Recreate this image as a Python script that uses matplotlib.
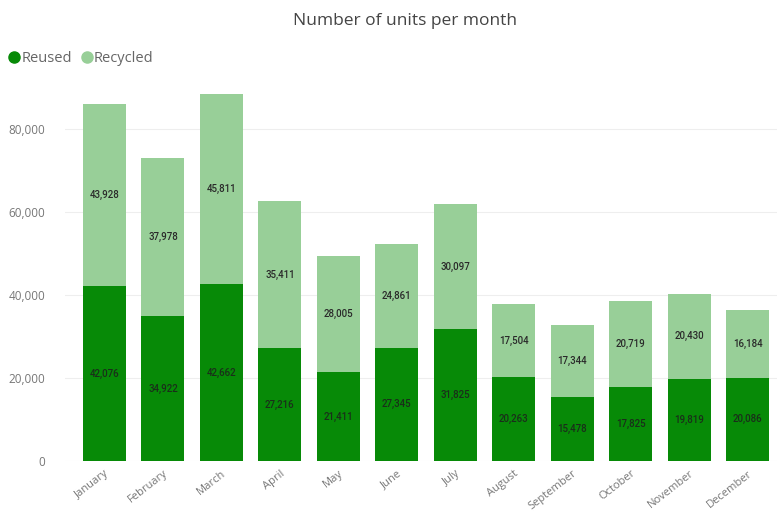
import matplotlib
matplotlib.use("Agg")
import matplotlib.pyplot as plt
from matplotlib.lines import Line2D

months = ["January", "February", "March", "April", "May", "June", "July",
          "August", "September", "October", "November", "December"]
reused = [42076, 34922, 42662, 27216, 21411, 27345, 31825, 20263, 15478, 17825, 19819, 20086]
recycled = [43928, 37978, 45811, 35411, 28005, 24861, 30097, 17504, 17344, 20719, 20430, 16184]
yticks = [0, 20000, 40000, 60000, 80000]

dark = "#078a07"
light = "#98cf98"

plt.rcParams['font.family'] = ['Open Sans', 'DejaVu Sans']
fig = plt.figure(figsize=(7.81, 5.19), dpi=100)
ax = fig.add_axes([65/781, 58/519, 712/781, 373.5/519])

x = list(range(len(months)))
w = 0.735
ax.bar(x, reused, width=w, color=dark, zorder=2)
ax.bar(x, recycled, width=w, bottom=reused, color=light, zorder=2)

for i in x:
    ax.text(i, reused[i] / 2, f"{reused[i]:,}", ha='center', va='center',
            fontsize=7, color='#1a2e1a', family=['Roboto', 'DejaVu Sans'],
            fontweight='medium', zorder=3)
    ax.text(i, reused[i] + recycled[i] / 2, f"{recycled[i]:,}", ha='center', va='center',
            fontsize=7, color='#2a2a2a', family=['Roboto', 'DejaVu Sans'],
            fontweight='medium', zorder=3)

ax.set_xlim(-0.675, 11.5)
ax.set_ylim(0, 90000)
ax.set_yticks(yticks)
ax.set_yticklabels([f"{v:,}" for v in yticks])
ax.set_xticks(x)
ax.set_xticklabels(months, rotation=38, ha='right', rotation_mode='anchor')
ax.tick_params(axis='both', length=0, colors='#777777', labelsize=8.5)
ax.tick_params(axis='x', labelsize=8)
ax.tick_params(axis='y', pad=14)
ax.tick_params(axis='x', pad=5)
ax.grid(axis='y', color='#eeeeee', linewidth=0.8, zorder=0)
for s in ax.spines.values():
    s.set_visible(False)

fig.text(405/781, 1 - 21/519, "Number of units per month", ha='center', va='center',
         fontsize=12.5, color='#444444')

handles = [Line2D([], [], marker='o', linestyle='', color=dark, markersize=8),
           Line2D([], [], marker='o', linestyle='', color=light, markersize=8)]
fig.legend(handles, ["Reused", "Recycled"], loc='center left',
           bbox_to_anchor=(7/781, 1 - 59/519), ncol=2, frameon=False,
           handletextpad=0.0, columnspacing=0.5, fontsize=10.5,
           labelcolor='#666666', borderaxespad=0, borderpad=0, handlelength=1.0)

fig.savefig("out.png", dpi=100)
